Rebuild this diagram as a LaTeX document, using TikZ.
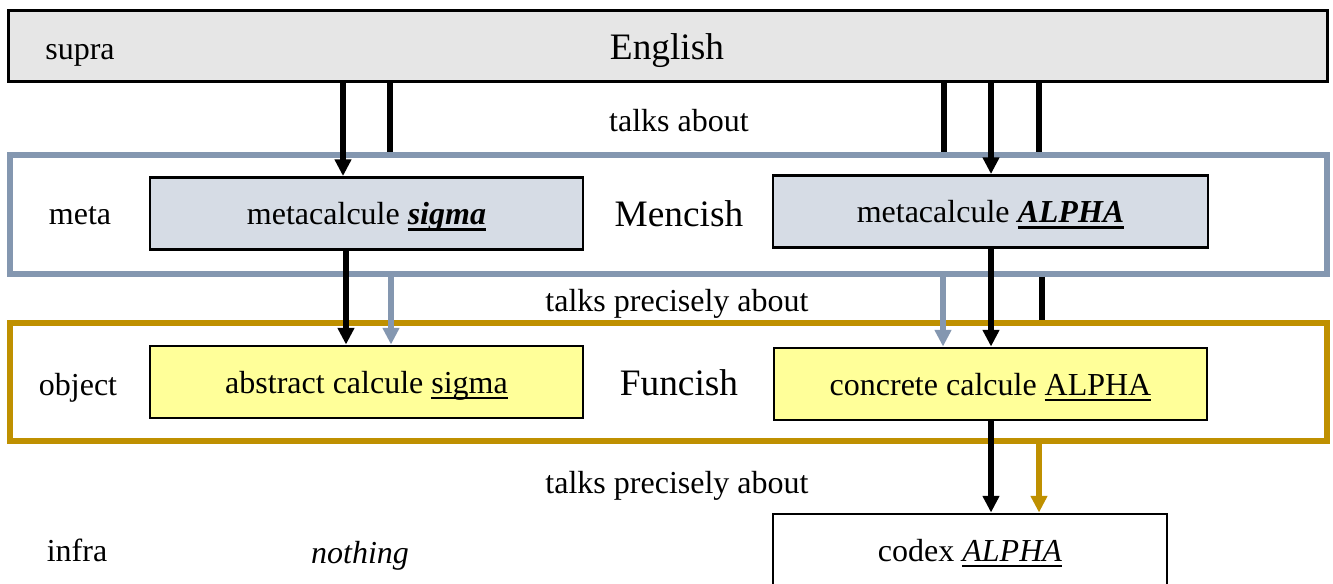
\documentclass[tikz,border=0pt]{standalone}
\usepackage{fontspec}
\setmainfont{Liberation Serif}
\usetikzlibrary{arrows.meta}
\definecolor{bluegray}{HTML}{8497B0}
\definecolor{gold}{HTML}{BF9000}
\definecolor{metafill}{HTML}{D6DCE5}
\definecolor{objfill}{HTML}{FFFF99}
\definecolor{suprafill}{HTML}{E6E6E6}

% underlines with a chosen rule weight
\newsavebox\ulbox
\newcommand\ulthick[1]{\sbox\ulbox{#1}\rlap{\rule[-4.6pt]{\wd\ulbox}{2pt}}\usebox\ulbox}
\newcommand\ulthin[1]{\sbox\ulbox{#1}\rlap{\rule[-3.9pt]{\wd\ulbox}{1pt}}\usebox\ulbox}

\begin{document}
\begin{tikzpicture}[x=0.75pt,y=-0.75pt,
  txt/.style={font=\fontsize{24}{28}\selectfont, inner sep=0pt,
              text height=21pt, text depth=4pt},
  big/.style={font=\fontsize{28}{32}\selectfont, inner sep=0pt,
              text height=23pt, text depth=4.2pt},
  frame/.style={draw=#1, line width=4.2pt, inner sep=0pt},
  calcbox/.style={draw=black, line width=2.2pt, fill=#1, inner sep=0pt,
              minimum height=72*0.75pt, txt},
  link/.style={line width=4.2pt},
  arr/.style={line width=4.2pt, -{Triangle[width=12pt,length=12.5pt]}}]

\clip (0,0) rectangle (1333,583);
\fill[white] (0,0) rectangle (1333,583);

% language layers
\node[draw=black, line width=1.6pt, fill=suprafill, inner sep=0pt,
      minimum width=1319*0.75pt, minimum height=71*0.75pt] (english) at (668,46) {};
\node[frame=bluegray, minimum width=1317*0.75pt, minimum height=119*0.75pt] (metaframe) at (668.5,214.5) {};
\node[frame=gold, minimum width=1317*0.75pt, minimum height=118*0.75pt] (objframe) at (668.5,382) {};

% level names
\node[txt] (supra) at (80,48) {supra};
\node[txt] (meta) at (80,213) {meta};
\node[txt] (object) at (78,384) {object};
\node[txt] (infra) at (77,550) {infra};

% language names
\node[big] (englishlbl) at (667,47) {English};
\node[big] (mencish) at (679,214) {Mencish};
\node[big] (funcish) at (679,383) {Funcish};

% calculi
\node[calcbox=metafill, minimum width=433*0.75pt] (mL) at (366.5,213.5)
  {metacalcule \ulthick{\textbf{\textit{sigma}}}};
\node[calcbox=metafill, minimum width=435*0.75pt] (mR) at (990.5,211.5)
  {metacalcule \ulthick{\textbf{\textit{ALPHA}}}};
\node[calcbox=objfill, minimum width=433*0.75pt] (oL) at (366.5,382)
  {abstract calcule \ulthin{sigma}};
\node[calcbox=objfill, minimum width=433*0.75pt] (oR) at (990.5,384)
  {concrete calcule \ulthin{ALPHA}};
\node[calcbox=white, minimum width=394*0.75pt] (codex) at (970,550)
  {codex \ulthin{\textit{ALPHA}}};
\node[txt] (nothing) at (360,552) {\textit{nothing}};

% relation labels
\node[txt] (talks) at (679,120) {talks about};
\node[txt] (precise1) at (677,300) {talks precisely about};
\node[txt] (precise2) at (677,482) {talks precisely about};

% vertical positions of the connectors
\coordinate (a1) at (343,0);
\coordinate (a2) at (390,0);
\coordinate (a3) at (944,0);
\coordinate (a4) at (991,0);
\coordinate (a5) at (1039,0);
\coordinate (b1) at (346,0);
\coordinate (b2) at (391,0);
\coordinate (b3) at (943,0);
\coordinate (b5) at (1042,0);

% supra -> meta
\draw[arr] (english.south -| a1) -- (mL.north -| a1);
\draw[link] (english.south -| a2) -- (metaframe.north -| a2);
\draw[link] (english.south -| a3) -- (metaframe.north -| a3);
\draw[arr] (english.south -| a4) -- (mR.north -| a4);
\draw[link] (english.south -| a5) -- (metaframe.north -| a5);

% meta -> object
\draw[arr] (mL.south -| b1) -- (oL.north -| b1);
\draw[arr, bluegray] (metaframe.south -| b2) -- (oL.north -| b2);
\draw[arr, bluegray] (metaframe.south -| b3) -- (oR.north -| b3);
\draw[arr] (mR.south -| a4) -- (oR.north -| a4);
\draw[link] (metaframe.south -| b5) -- (objframe.north -| b5);

% object -> infra
\draw[arr] (oR.south -| a4) -- (codex.north -| a4);
\draw[arr, gold] (objframe.south -| a5) -- (codex.north -| a5);

\end{tikzpicture}
\end{document}
